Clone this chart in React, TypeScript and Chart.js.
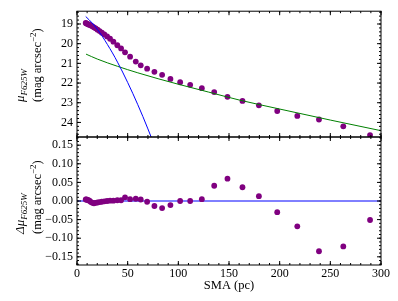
import React, { useEffect, useRef } from 'react';
import { Chart, registerables } from 'chart.js';

Chart.register(...registerables);

// ---- data ----
const sma = [8.6, 9.4, 10.4, 11.4, 12.6, 13.8, 15.2, 16.7, 18.4, 20.3, 22.3, 24.5, 27.0, 29.7, 32.6, 35.9, 39.8, 43.5, 47.4, 52.4, 58.0, 62.9, 69.2, 76.4, 84.0, 92.2, 101.8, 111.7, 123.2, 135.4, 148.5, 163.3, 179.5, 197.6, 217.4, 238.8, 262.8, 289.2];
const mu = [18.95, 18.97, 19.0, 19.02, 19.05, 19.08, 19.12, 19.17, 19.22, 19.29, 19.36, 19.44, 19.53, 19.63, 19.75, 19.9, 20.08, 20.24, 20.44, 20.66, 20.91, 21.1, 21.27, 21.43, 21.58, 21.79, 21.96, 22.09, 22.26, 22.46, 22.7, 22.91, 23.13, 23.42, 23.67, 23.85, 24.2, 24.64];
const dmu = [0.004, 0.004, 0.003, 0.002, 0.0, -0.003, -0.005, -0.006, -0.005, -0.004, -0.003, -0.002, -0.001, 0.0, 0.001, 0.001, 0.002, 0.002, 0.01, 0.005, 0.006, 0.004, -0.002, -0.0135, -0.019, -0.011, 0.0, 0.0, 0.005, 0.041, 0.06, 0.037, 0.013, -0.03, -0.068, -0.135, -0.122, -0.051];

const bulgeR = [8.6, 15, 20, 25, 30, 35, 40, 45, 50, 55, 60, 65, 70, 75];
const bulgeMu = [18.62, 18.95, 19.27, 19.63, 20.04, 20.47, 20.94, 21.44, 21.97, 22.52, 23.1, 23.7, 24.33, 24.98];

const diskR = [8.9, 20, 40, 60, 80, 100, 130, 160, 200, 250, 300];
const diskMu = [20.53, 20.78, 21.15, 21.48, 21.78, 22.06, 22.46, 22.86, 23.32, 23.88, 24.42];

const zeroX = [0, 300];
const zeroY = [0, 0];

const xTicks = [0, 50, 100, 150, 200, 250, 300];
const muTicks = [19, 20, 21, 22, 23, 24];
const dmuTicks = [-0.15, -0.1, -0.05, 0, 0.05, 0.1, 0.15];
const dmuTickLabels = ['\u22120.15', '\u22120.10', '\u22120.05', '0.00', '0.05', '0.10', '0.15'];

const FONT = '"Liberation Serif", "Times New Roman", serif';
const PURPLE = '#800080';

const pts = (xs: number[], ys: number[]) => xs.map((x, i) => ({ x, y: ys[i] }));

type Part = { text: string; size: number; italic?: boolean; dy?: number };

const framePlugin = {
  id: 'frame',
  afterDatasetsDraw(chart: any, _a: any, opts: any) {
    const { ctx, chartArea: a } = chart;
    const xs = chart.scales.x;
    const ys = chart.scales.y;
    ctx.save();
    ctx.strokeStyle = '#000';
    ctx.lineWidth = 1;
    ctx.beginPath();
    const seg = (x1: number, y1: number, x2: number, y2: number) => {
      ctx.moveTo(x1, y1);
      ctx.lineTo(x2, y2);
    };
    const tickX = (v: number, len: number) => {
      const p = xs.getPixelForValue(v);
      seg(p, a.bottom, p, a.bottom - len);
      seg(p, a.top, p, a.top + len);
    };
    const tickY = (v: number, len: number) => {
      const p = ys.getPixelForValue(v);
      seg(a.left, p, a.left + len, p);
      seg(a.right, p, a.right - len, p);
    };
    const minors = (min: number, max: number, step: number) => {
      const out: number[] = [];
      for (let i = Math.ceil(min / step - 1e-9); i * step <= max + 1e-9; i++) out.push(i * step);
      return out;
    };
    minors(xs.min, xs.max, opts.minorX).forEach((v) => tickX(v, 2));
    minors(Math.min(ys.min, ys.max), Math.max(ys.min, ys.max), opts.minorY).forEach((v) => tickY(v, 2));
    (opts.majorX as number[]).forEach((v) => tickX(v, 4));
    (opts.majorY as number[]).forEach((v) => tickY(v, 4));
    ctx.stroke();
    ctx.strokeRect(a.left, a.top, a.right - a.left, a.bottom - a.top);
    ctx.restore();
  },
};

const yTitlePlugin = {
  id: 'ytitle',
  afterDraw(chart: any, _a: any, opts: any) {
    const ctx = chart.ctx;
    ctx.save();
    ctx.fillStyle = '#000';
    ctx.textBaseline = 'alphabetic';
    ctx.textAlign = 'left';
    for (const line of opts.lines as { parts: Part[]; x: number }[]) {
      ctx.save();
      ctx.translate(line.x, opts.startY);
      ctx.rotate(-Math.PI / 2);
      let cx = 0;
      for (const p of line.parts) {
        ctx.font = `${p.italic ? 'italic ' : ''}${p.size}px ${FONT}`;
        ctx.fillText(p.text, cx, p.dy || 0);
        cx += ctx.measureText(p.text).width;
      }
      ctx.restore();
    }
    ctx.restore();
  },
};

const unitLine: Part[] = [
  { text: '(mag arcsec', size: 12.5 },
  { text: '\u22122', size: 9, dy: -5 },
  { text: ')', size: 12.5 },
];

export default function App() {
  const topRef = useRef<HTMLCanvasElement>(null);
  const botRef = useRef<HTMLCanvasElement>(null);

  useEffect(() => {
    const tickFont = { family: FONT, size: 12 };
    const common: any = {
      responsive: false,
      animation: false,
      events: [],
      plugins: { legend: { display: false }, tooltip: { enabled: false } },
    };

    const top = new Chart(topRef.current as HTMLCanvasElement, {
      type: 'scatter',
      data: {
        datasets: [
          { data: pts(bulgeR, bulgeMu), showLine: true, borderColor: '#0000ff', borderWidth: 1, pointRadius: 0, cubicInterpolationMode: 'monotone' } as any,
          { data: pts(diskR, diskMu), showLine: true, borderColor: '#008000', borderWidth: 1, pointRadius: 0, cubicInterpolationMode: 'monotone' } as any,
          { data: pts(sma, mu), pointRadius: 2.9, backgroundColor: PURPLE, borderColor: PURPLE, borderWidth: 0 } as any,
        ],
      },
      options: {
        ...common,
        layout: { padding: { left: 0, right: 17, top: 7.5, bottom: 164 } },
        plugins: {
          ...common.plugins,
          frame: { minorX: 10, minorY: 0.2, majorX: xTicks, majorY: muTicks },
          ytitle: {
            startY: 102,
            lines: [
              { x: 24, parts: [{ text: '\u03bc', size: 13, italic: true }, { text: 'F625W', size: 9, italic: true, dy: 3 }] },
              { x: 40.5, parts: unitLine },
            ],
          },
        } as any,
        scales: {
          x: { type: 'linear', display: false, min: 0, max: 300 },
          y: {
            type: 'linear',
            reverse: true,
            min: 18.35,
            max: 24.74,
            afterBuildTicks: (s: any) => { s.ticks = muTicks.map((v) => ({ value: v })); },
            afterFit: (s: any) => { s.width = 77; },
            grid: { display: false, drawTicks: false },
            border: { display: false },
            ticks: { font: tickFont, color: '#000', padding: 4, callback: (v: any) => String(v) },
          },
        },
      },
      plugins: [framePlugin, yTitlePlugin],
    });

    const bot = new Chart(botRef.current as HTMLCanvasElement, {
      type: 'scatter',
      data: {
        datasets: [
          { data: pts(sma, dmu), pointRadius: 2.9, backgroundColor: PURPLE, borderColor: PURPLE, borderWidth: 0 } as any,
          { data: pts(zeroX, zeroY), showLine: true, borderColor: '#0000ff', borderWidth: 1, pointRadius: 0 } as any,
        ],
      },
      options: {
        ...common,
        layout: { padding: { left: 0, right: 17, top: 137, bottom: 0 } },
        plugins: {
          ...common.plugins,
          frame: { minorX: 10, minorY: 0.01, majorX: xTicks, majorY: dmuTicks },
          ytitle: {
            startY: 234,
            lines: [
              { x: 24, parts: [{ text: '\u0394\u03bc', size: 13, italic: true }, { text: 'F625W', size: 9, italic: true, dy: 3 }] },
              { x: 40.5, parts: unitLine },
            ],
          },
        } as any,
        scales: {
          x: {
            type: 'linear',
            min: 0,
            max: 300,
            afterBuildTicks: (s: any) => { s.ticks = xTicks.map((v) => ({ value: v })); },
            afterFit: (s: any) => { s.height = 36; },
            grid: { display: false, drawTicks: false },
            border: { display: false },
            ticks: { font: tickFont, color: '#000', padding: 2, maxRotation: 0, autoSkip: false },
            title: { display: true, text: 'SMA (pc)', color: '#000', font: { family: FONT, size: 12.5 }, padding: { top: 0, bottom: 7.5 } },
          },
          y: {
            type: 'linear',
            min: -0.172,
            max: 0.172,
            afterBuildTicks: (s: any) => { s.ticks = dmuTicks.map((v) => ({ value: v })); },
            afterFit: (s: any) => { s.width = 77; },
            grid: { display: false, drawTicks: false },
            border: { display: false },
            ticks: {
              font: tickFont,
              color: '#000',
              padding: 4,
              callback: (v: any) => {
                const i = dmuTicks.findIndex((t) => Math.abs(t - Number(v)) < 1e-9);
                return i >= 0 ? dmuTickLabels[i] : '';
              },
            },
          },
        },
      },
      plugins: [framePlugin, yTitlePlugin],
    });

    return () => {
      top.destroy();
      bot.destroy();
    };
  }, []);

  const cs: React.CSSProperties = { position: 'absolute', left: 0, top: 0, width: 398, height: 301 };
  return (
    <div style={{ position: 'absolute', left: 0, top: 0, width: 398, height: 301, background: '#fff' }}>
      <canvas ref={topRef} width={398} height={301} style={cs} />
      <canvas ref={botRef} width={398} height={301} style={cs} />
    </div>
  );
}
